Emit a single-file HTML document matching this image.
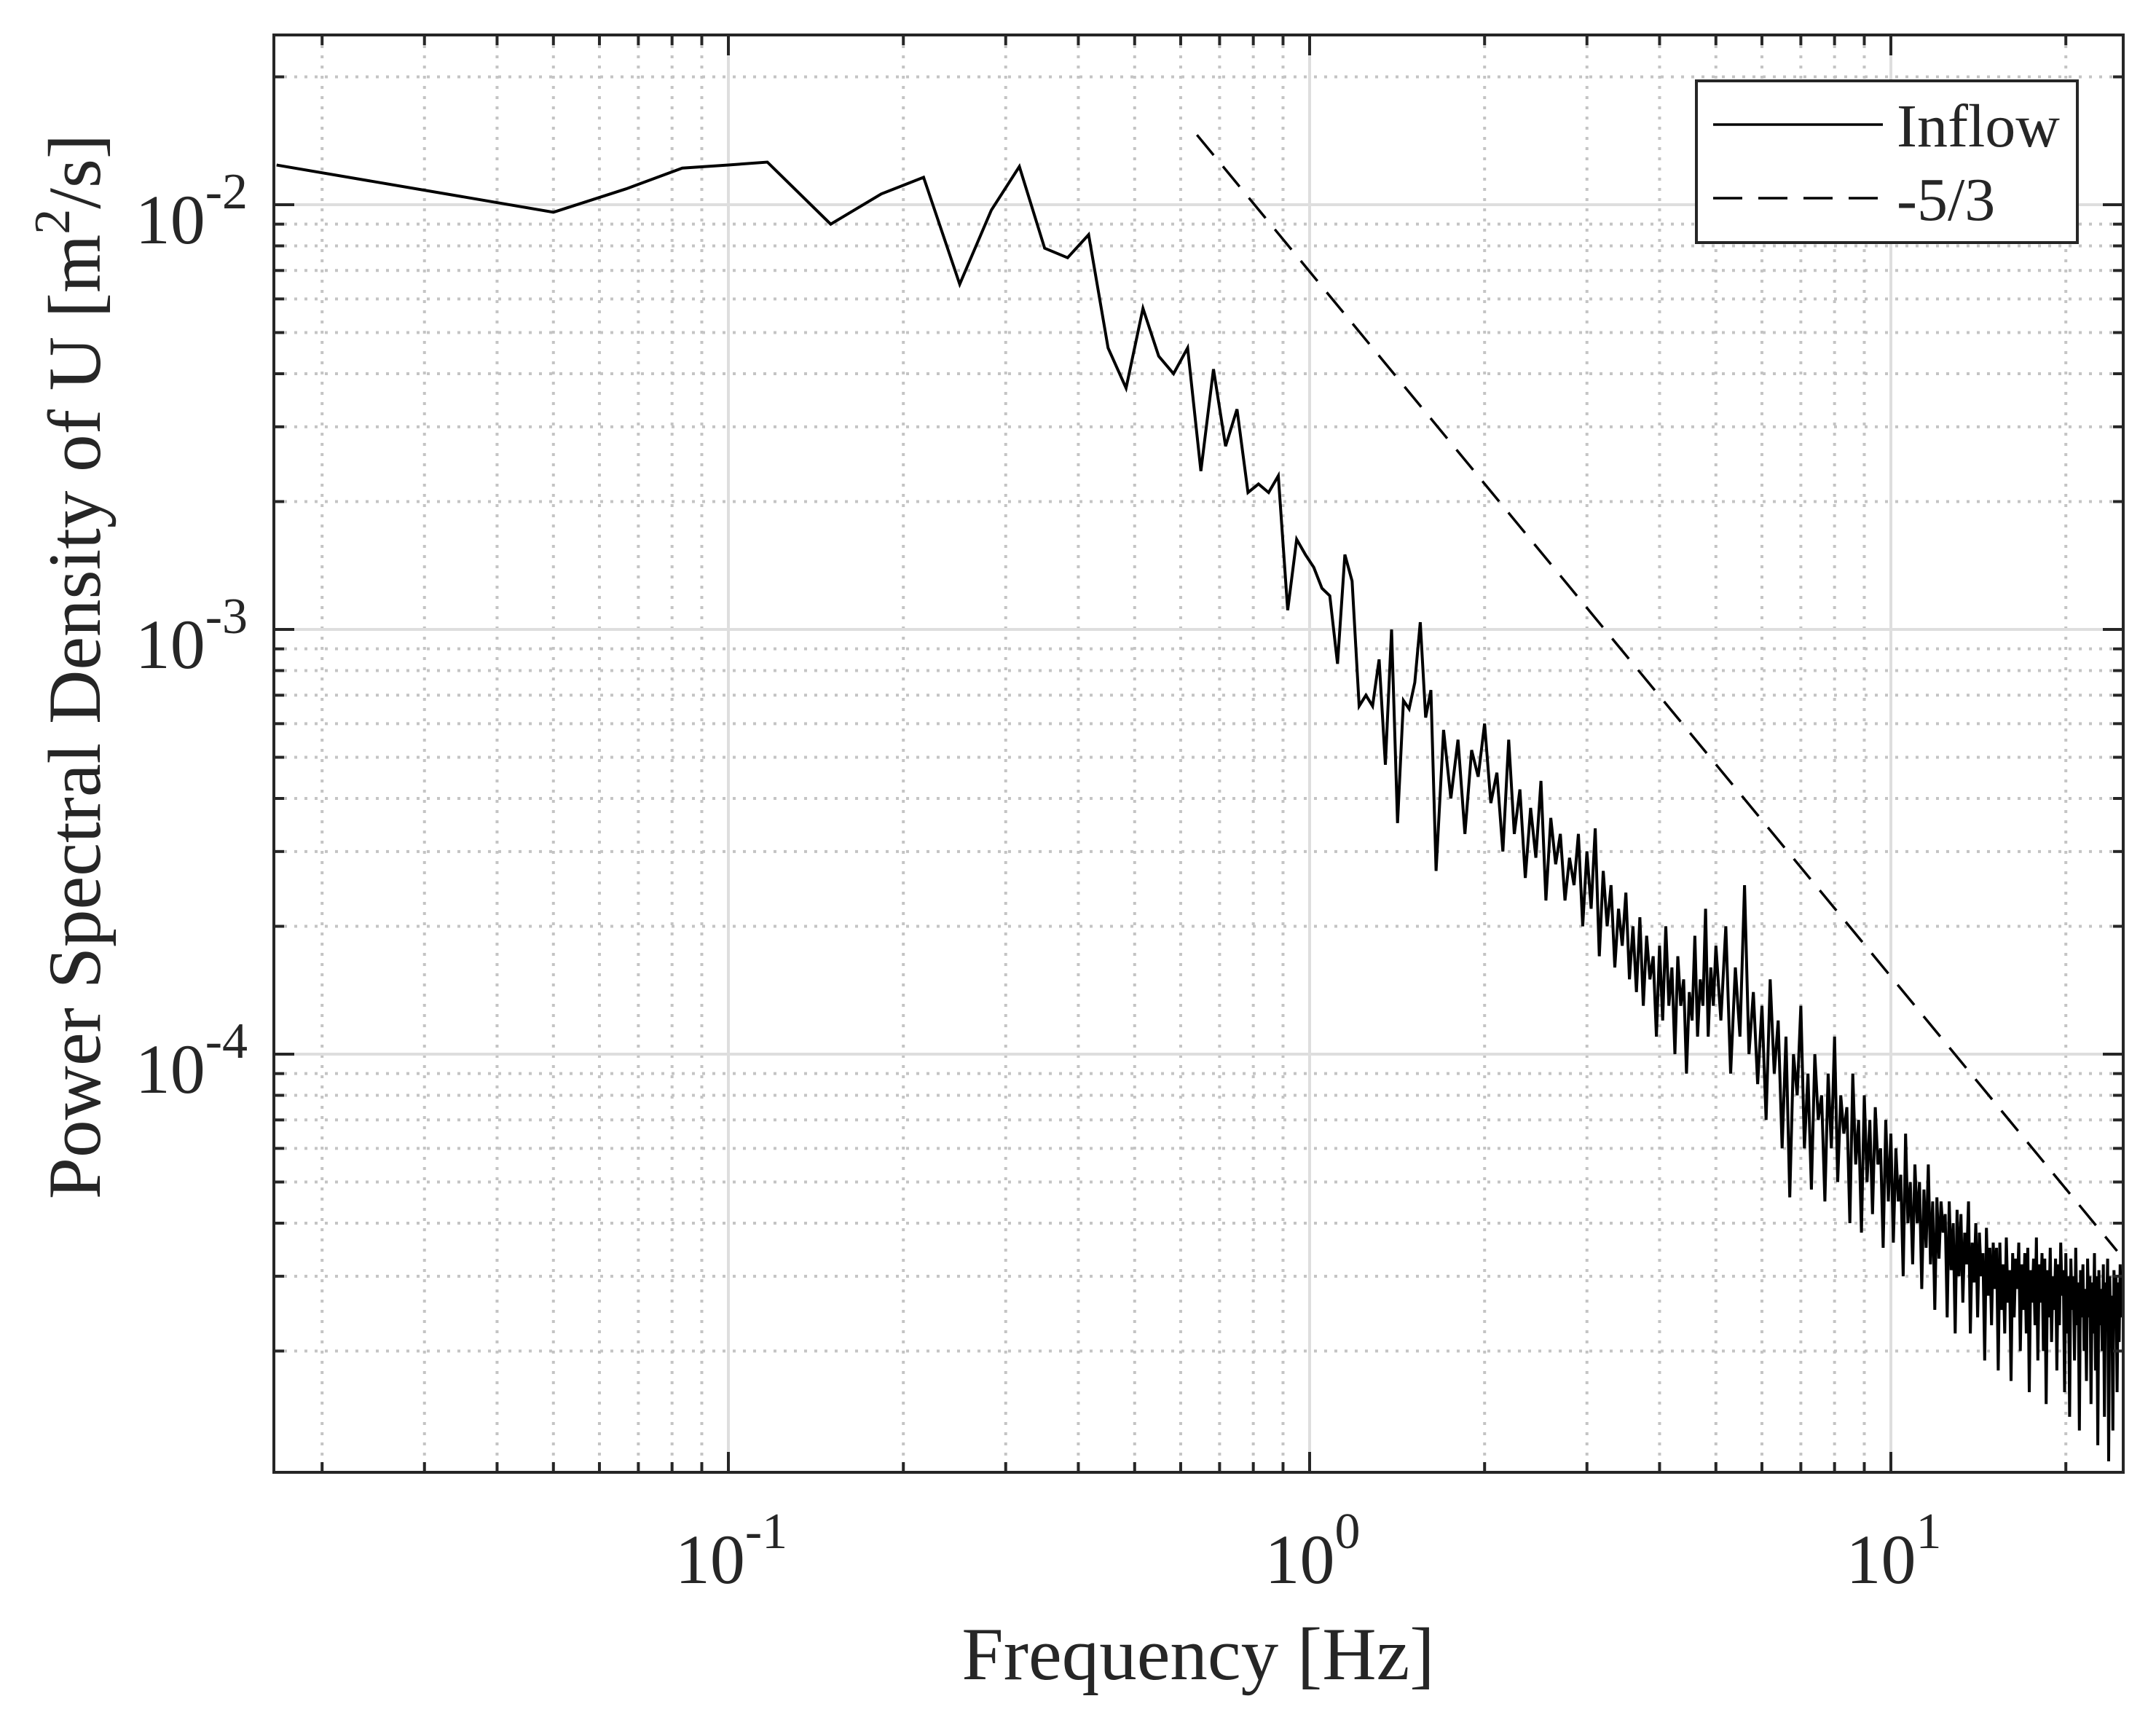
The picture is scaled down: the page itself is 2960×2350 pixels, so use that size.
<!DOCTYPE html>
<html><head><meta charset="utf-8"><style>
html,body{margin:0;padding:0;background:#fff;}
svg{display:block;}
text{font-family:"Liberation Serif","DejaVu Serif",serif;fill:#262626;}
</style></head><body>
<svg id="chart" width="2960" height="2350" viewBox="0 0 2960 2350" xmlns="http://www.w3.org/2000/svg">
<rect x="0" y="0" width="2960" height="2350" fill="#fff"/>
<defs><clipPath id="clip"><rect x="376" y="48" width="2539" height="1973"/></clipPath></defs>
<rect x="376" y="48" width="2539" height="1973" fill="#fff"/>
<g id="grid"></g>
<g id="series" clip-path="url(#clip)"></g>
<g id="axes"></g>
<g id="legend">
  <rect x="2329" y="111" width="523" height="222" fill="#fff" stroke="#262626" stroke-width="4"/>
  <line x1="2352" y1="171" x2="2585" y2="171" stroke="#000" stroke-width="3.5"/>
  <text x="2604" y="201" font-size="84">Inflow</text>
  <line x1="2352" y1="272" x2="2585" y2="272" stroke="#000" stroke-width="3.5" stroke-dasharray="40,22"/>
  <text x="2604" y="302" font-size="84">-5/3</text>
</g>
<text x="1645" y="2305" font-size="103" text-anchor="middle">Frequency [Hz]</text>
<text transform="translate(137,915) rotate(-90)" font-size="103" text-anchor="middle">Power Spectral Density of U [m<tspan font-size="70" dy="-42">2</tspan><tspan dy="42">/s]</tspan></text>
</svg>
<script>
// ---- data ----
const lowFreq = [0.0167,0.05,0.0667,0.0833,0.1,0.1167,0.15,0.1833,0.2167,0.25,0.2833,0.3167,0.35,0.3833,0.4167,0.45,0.4833,0.5167,0.55,0.5833,0.6167,0.65,0.6833,0.7167,0.75,0.7833,0.8167,0.85,0.8833,0.9167,0.95,0.9833,1.0167,1.05,1.0833,1.1167,1.15,1.1833,1.2167,1.25,1.2833,1.3167,1.35,1.3833,1.4167,1.45,1.4833,1.5167,1.55,1.5833,1.6167];
const lowPsd = [0.0124,0.0096,0.0109,0.0122,0.0124,0.0126,0.0090,0.0106,0.0116,0.0065,0.0097,0.0123,0.0079,0.0075,0.0085,0.0046,0.0037,0.0057,0.0044,0.0040,0.0046,0.00236,0.0041,0.0027,0.0033,0.0021,0.0022,0.0021,0.0023,0.00111,0.00163,0.0015,0.0014,0.00125,0.0012,0.00083,0.0015,0.0013,0.00066,0.0007,0.00066,0.00085,0.00048,0.00100,0.00035,0.00068,0.00065,0.00075,0.00104,0.00062,0.00072];
// 1.65 Hz .. 5.0 Hz, step 0.05 Hz, units 1e-4
const midStart = 1.65, midStep = 0.05;
const midPsd = [2.7,5.8,4.0,5.5,3.3,5.2,4.5,6.0,3.9,4.6,3.0,5.5,3.3,4.2,2.6,3.8,2.9,4.4,2.3,3.6,2.8,3.3,2.3,2.9,2.5,3.3,2.0,3.0,2.2,3.4,1.7,2.7,2.0,2.5,1.6,2.2,1.8,2.4,1.5,2.0,1.4,2.1,1.3,1.9,1.5,1.7,1.1,1.8,1.2,2.0,1.3,1.6,1.0,1.7,1.3,1.5,0.9,1.4,1.2,1.9,1.1,1.5,1.3,2.2,1.1,1.6,1.3,1.8];
// 5.1 Hz .. 25 Hz, step 0.1 Hz, units 1e-5
const hiStart = 5.1, hiStep = 0.1;
const hiPsd = [12,20,9,16,11,25,10,14,8.5,13,
7,15,9,12,6,11,4.6,10,8,13,
6,9,4.8,10,7,8,4.5,9,6,11,
5,8,6.5,7.5,4,9,5.5,7,3.8,8,
5,7,4.2,7.5,5.5,6,3.5,7,4.5,6.5,
3.6,6,4.5,5.2,3,6.5,4,5,3.2,5.5,
4,5,2.8,4.8,3.5,5.5,3.2,4.5,2.5,4.6,
3.3,4.5,3.8,4.2,2.4,4.5,3.1,4,2.2,4.3,
3,4.2,2.6,3.8,3.2,4.5,2.2,3.6,2.9,4,
2.4,3.8,3,3.4,1.9,3.9,2.7,3.5,2.3,3.6,
2.8,3.5,1.8,3.6,2.5,3.2,2.2,3.7,2.6,3.1,
1.7,3.4,2.4,3.3,2.8,3.6,2,3.2,2.5,3.4,
2.2,3.5,1.6,3.1,2.6,3.3,2.3,3.7,1.9,3.2,
2.6,3.4,2,3.3,1.5,3.1,2.4,3.5,2.1,3,
2.5,3.3,1.8,3.2,2.3,3.6,2.7,3.1,1.6,3.4,
2.2,3,1.4,3.3,2.5,3,1.9,3.5,2.3,2.9,
1.3,3.1,2.4,3.2,2,2.8,1.7,3.3,2.4,3,
1.5,2.9,2.2,3.4,1.8,3,1.2,3.1,2.3,2.8,
2,3.2,1.4,2.9,2.4,3.3,1.1,3,2.2,2.7,
1.3,3.1,2.5,3,1.6,2.9,2.1,3.2,2.4,2.8];
const refFreq = [0.64, 24.5];
const refPsd = [0.0146, 3.44e-5];
const xTickValues = [0.1, 1, 10];
const xTickExps = ["-1", "0", "1"];
const yTickValues = [1e-4, 1e-3, 1e-2];
const yTickExps = ["-4", "-3", "-2"];

// ---- axes ----
const X0 = 376, X1 = 2915, Y0 = 48, Y1 = 2021;
const xDec = 798, x100 = 1798;
const yDec = 583, y1em2 = 281;
function xs(f){ return x100 + xDec*Math.log10(f); }
function ys(p){ return y1em2 - yDec*(Math.log10(p)+2); }
const NS = "http://www.w3.org/2000/svg";
function mk(tag, attrs, parent){ const e=document.createElementNS(NS,tag); for(const k in attrs) e.setAttribute(k,attrs[k]); parent.appendChild(e); return e; }
const grid = document.getElementById('grid'), axes = document.getElementById('axes'), series = document.getElementById('series');

for (let d=-2; d<=1; d++){
  for (let m=1; m<=9; m++){
    const f = m*Math.pow(10,d), x = xs(f);
    if (x < X0+1 || x > X1-1) continue;
    const major = (m===1);
    const g = mk('line',{x1:x,y1:Y0,x2:x,y2:Y1,stroke:major?'#dedede':'#c4c4c4','stroke-width':4,'stroke-dasharray':major?'none':'4,10'},grid);
    
    
    const L = major?28:14;
    const t1 = mk('line',{x1:x,y1:Y1,x2:x,y2:Y1-L,stroke:'#262626','stroke-width':4},axes);
    
    
    const t2 = mk('line',{x1:x,y1:Y0,x2:x,y2:Y0+L,stroke:'#262626','stroke-width':4},axes);
    
    
  }
}
for (let d=-5; d<=-2; d++){
  for (let m=1; m<=9; m++){
    const p = m*Math.pow(10,d), y = ys(p);
    if (y < Y0+1 || y > Y1-1) continue;
    const major = (m===1);
    const g = mk('line',{x1:X0,y1:y,x2:X1,y2:y,stroke:major?'#dedede':'#c4c4c4','stroke-width':4,'stroke-dasharray':major?'none':'4,10'},grid);
    
    
    const L = major?28:14;
    const t1 = mk('line',{x1:X0,y1:y,x2:X0+L,y2:y,stroke:'#262626','stroke-width':4},axes);
    
    
    const t2 = mk('line',{x1:X1,y1:y,x2:X1-L,y2:y,stroke:'#262626','stroke-width':4},axes);
    
    
  }
}
const frame = mk('rect',{x:X0,y:Y0,width:X1-X0,height:Y1-Y0,fill:'none',stroke:'#262626','stroke-width':4},axes);



xTickValues.forEach((v,i)=>{
  const t = mk('text',{x:xs(v)+4,y:2173,'font-size':96,'text-anchor':'middle'},axes);
  
  
  t.appendChild(document.createTextNode('10'));
  const s = mk('tspan',{'font-size':70,dy:-48},t);
  s.textContent = xTickExps[i];
});
yTickValues.forEach((v,i)=>{
  const t = mk('text',{x:340,y:ys(v)+53,'font-size':96,'text-anchor':'end'},axes);
  
  
  t.appendChild(document.createTextNode('10'));
  const s = mk('tspan',{'font-size':70,dy:-48},t);
  s.textContent = yTickExps[i];
});

const pts = [];
lowFreq.forEach((f,i)=>pts.push([xs(f),ys(lowPsd[i])]));
midPsd.forEach((v,i)=>pts.push([xs(midStart+midStep*i),ys(v*1e-4)]));
hiPsd.forEach((v,i)=>pts.push([xs(hiStart+hiStep*i),ys(v*1e-5)]));
const inflow = mk('polyline',{points:pts.map(p=>p[0].toFixed(1)+','+p[1].toFixed(1)).join(' '),fill:'none',stroke:'#000','stroke-width':4,'stroke-linejoin':'miter'},series);



const ref = mk('line',{x1:xs(refFreq[0]),y1:ys(refPsd[0]),x2:xs(refFreq[1]),y2:ys(refPsd[1]),stroke:'#000','stroke-width':3.5,'stroke-dasharray':'36,20'},series);


</script>
</body></html>
